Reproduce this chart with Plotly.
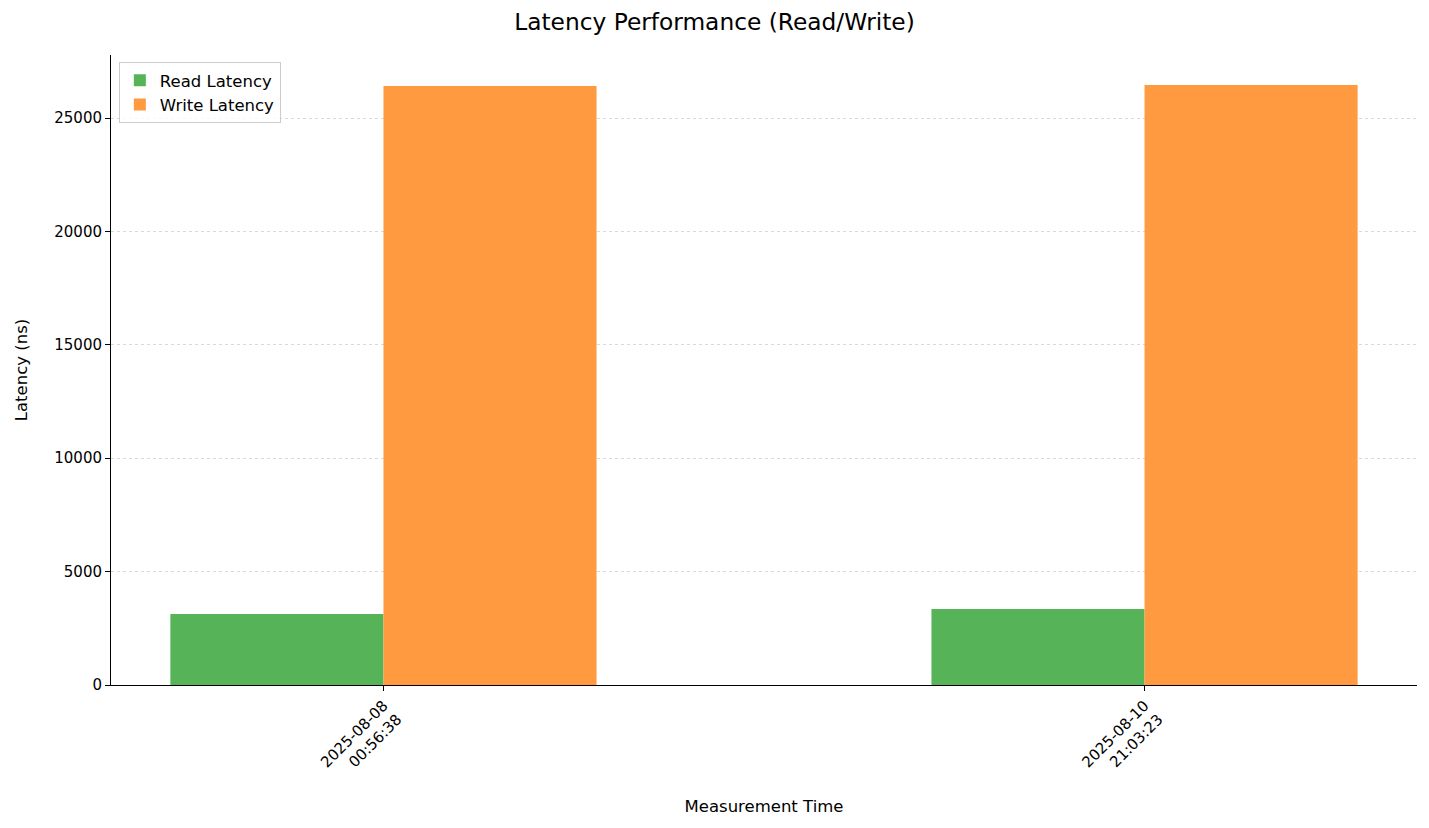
import plotly.graph_objects as go

categories = ["2025-08-08<br>00:56:38", "2025-08-10<br>21:03:23"]
read_latency = [3130, 3350]
write_latency = [26410, 26455]
y_ticks = [0, 5000, 10000, 15000, 20000, 25000]
y_tick_labels = ["0", "5000", "10000", "15000", "20000", "25000"]

xpos = list(range(len(categories)))
bar_w = 0.28

fig = go.Figure()
fig.add_trace(go.Bar(x=xpos, y=read_latency, name="Read Latency", width=bar_w, offset=-bar_w,
                     marker=dict(color="#57b357", line=dict(width=0))))
fig.add_trace(go.Bar(x=xpos, y=write_latency, name="Write Latency", width=bar_w, offset=0,
                     marker=dict(color="#ff9a40", line=dict(width=0))))

ymax = max(max(read_latency), max(write_latency)) * 1.05

fig.update_layout(
    width=1429, height=828,
    margin=dict(l=111, r=12, t=55, b=143),
    paper_bgcolor="white", plot_bgcolor="white",
    font=dict(family="DejaVu Sans", color="black", size=15),
    title=dict(text="Latency Performance (Read/Write)", x=0.5, xanchor="center",
               y=1 - 22/828, yanchor="middle", font=dict(size=23.3)),
    barmode="overlay",
    showlegend=True,
    legend=dict(x=0.006, y=0.989, xanchor="left", yanchor="top",
                bordercolor="#cccccc", borderwidth=1, bgcolor="rgba(255,255,255,0.8)",
                font=dict(size=16.5)),
    xaxis=dict(range=[-0.358, 1.358], tickmode="array", tickvals=xpos, ticktext=categories,
               tickangle=-45, showline=True, linecolor="black", linewidth=1, automargin=False,
               ticks="outside", ticklen=5, tickcolor="black", showgrid=False, zeroline=False,
               title=dict(text="Measurement Time", font=dict(size=16.5), standoff=16),
               tickfont=dict(size=15)),
    yaxis=dict(range=[0, ymax], tickmode="array", tickvals=y_ticks, ticktext=y_tick_labels,
               showline=True, linecolor="black", linewidth=1, automargin=False,
               ticks="outside", ticklen=5, tickcolor="black",
               showgrid=True, gridcolor="#d9d9d9", griddash="dot", gridwidth=1, zeroline=False,
               title=dict(text="Latency (ns)", font=dict(size=16.5), standoff=22),
               tickfont=dict(size=15)),
)

fig.write_html("out.html")
